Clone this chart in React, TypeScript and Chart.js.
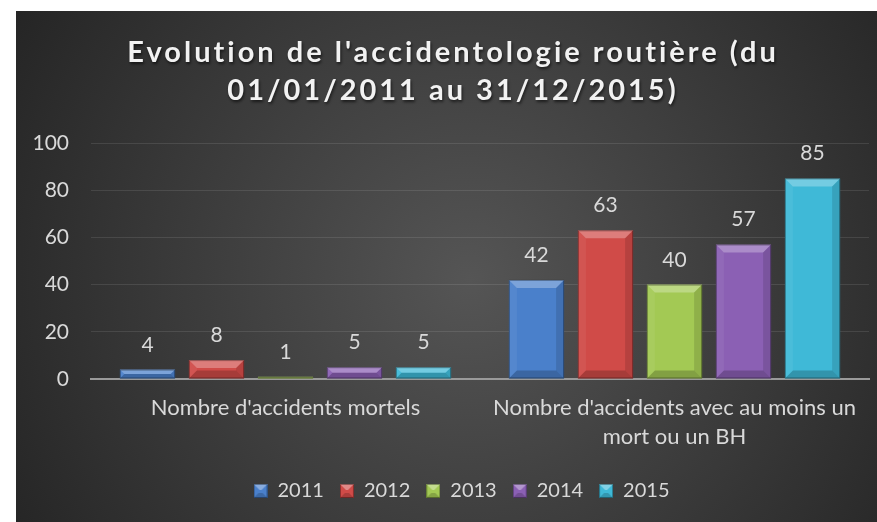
import React, { useEffect, useRef } from "react";
import { Chart, registerables } from "chart.js";

Chart.register(...registerables);

// ---- data ----
const categories: (string | string[])[] = [
  "Nombre d'accidents mortels",
  ["Nombre d'accidents avec au moins un", "mort ou un BH"],
];
const years = ["2011", "2012", "2013", "2014", "2015"];
const values2011 = [4, 42];
const values2012 = [8, 63];
const values2013 = [1, 40];
const values2014 = [5, 57];
const values2015 = [5, 85];
const seriesValues = [values2011, values2012, values2013, values2014, values2015];
const titleLines = [
  "Evolution de l'accidentologie routière (du",
  "01/01/2011 au 31/12/2015)",
];
const yMin = 0;
const yMax = 100;
const yStep = 20;

// ---- styles ----
const colors = ["#4a80cb", "#d04b48", "#a3c954", "#8b60b4", "#3fb9d7"];
const FONT = "Lato, 'Open Sans', sans-serif";
const TEXT = "#d9d9d9";

function makeIcon(color: string): HTMLCanvasElement {
  const c = document.createElement("canvas");
  c.width = 14;
  c.height = 14;
  const g = c.getContext("2d")!;
  g.fillStyle = color;
  g.fillRect(0, 0, 14, 14);
  g.fillStyle = "rgba(255,255,255,0.35)";
  g.beginPath();
  g.moveTo(0, 0);
  g.lineTo(14, 0);
  g.lineTo(8, 6);
  g.lineTo(6, 6);
  g.closePath();
  g.fill();
  g.fillStyle = "rgba(0,0,0,0.18)";
  g.beginPath();
  g.moveTo(0, 14);
  g.lineTo(14, 14);
  g.lineTo(9, 9);
  g.lineTo(5, 9);
  g.closePath();
  g.fill();
  g.strokeStyle = "rgba(0,0,0,0.35)";
  g.lineWidth = 1;
  g.strokeRect(0.5, 0.5, 13, 13);
  return c;
}

const backgroundPlugin = {
  id: "panelBackground",
  afterLayout(chart: any) {
    if (chart.legend) {
      chart.legend.left += 19;
      chart.legend.right += 19;
    }
  },
  beforeDraw(chart: any) {
    const { ctx, width, height } = chart;
    ctx.save();
    const px = 16;
    const py = 11;
    const g = ctx.createRadialGradient(470, 280, 0, 470, 280, 560);
    g.addColorStop(0, "#555555");
    g.addColorStop(1, "#222222");
    ctx.fillStyle = g;
    ctx.fillRect(px, py, width - px, height - py);

    // title
    ctx.font = `bold 29px ${FONT}`;
    ctx.fillStyle = "#f2f2f2";
    ctx.textAlign = "center";
    ctx.textBaseline = "alphabetic";
    try {
      (ctx as any).letterSpacing = "3px";
    } catch (e) {}
    ctx.shadowColor = "rgba(0,0,0,0.6)";
    ctx.shadowBlur = 3;
    ctx.shadowOffsetX = 1;
    ctx.shadowOffsetY = 2;
    const cx = 453;
    titleLines.forEach((line, i) => {
      ctx.fillText(line, cx, 62 + i * 38);
    });
    ctx.restore();
  },
};

const bevelAndLabelPlugin = {
  id: "bevelAndLabels",
  afterDatasetsDraw(chart: any) {
    const ctx = chart.ctx;
    ctx.save();
    chart.data.datasets.forEach((ds: any, i: number) => {
      const meta = chart.getDatasetMeta(i);
      meta.data.forEach((bar: any, j: number) => {
        const { x, y, base, width } = bar.getProps(["x", "y", "base", "width"], true);
        const l = x - width / 2;
        const r = x + width / 2;
        const t = Math.min(y, base);
        const b = Math.max(y, base);
        const h = b - t;
        const bv = Math.min(8, h / 2);
        // top bevel
        ctx.fillStyle = "rgba(255,255,255,0.28)";
        ctx.beginPath();
        ctx.moveTo(l, t);
        ctx.lineTo(r, t);
        ctx.lineTo(r - bv, t + bv);
        ctx.lineTo(l + bv, t + bv);
        ctx.closePath();
        ctx.fill();
        // left bevel
        ctx.fillStyle = "rgba(255,255,255,0.06)";
        ctx.beginPath();
        ctx.moveTo(l, t);
        ctx.lineTo(l + bv, t + bv);
        ctx.lineTo(l + bv, b - bv);
        ctx.lineTo(l, b);
        ctx.closePath();
        ctx.fill();
        // right bevel
        ctx.fillStyle = "rgba(0,0,0,0.12)";
        ctx.beginPath();
        ctx.moveTo(r, t);
        ctx.lineTo(r - bv, t + bv);
        ctx.lineTo(r - bv, b - bv);
        ctx.lineTo(r, b);
        ctx.closePath();
        ctx.fill();
        // bottom bevel
        ctx.fillStyle = "rgba(0,0,0,0.2)";
        ctx.beginPath();
        ctx.moveTo(l, b);
        ctx.lineTo(r, b);
        ctx.lineTo(r - bv, b - bv);
        ctx.lineTo(l + bv, b - bv);
        ctx.closePath();
        ctx.fill();
        // outline
        ctx.strokeStyle = "rgba(0,0,0,0.35)";
        ctx.lineWidth = 1;
        ctx.strokeRect(l + 0.5, t + 0.5, width - 1, h - 1);

        // value label
        ctx.font = `21px ${FONT}`;
        ctx.fillStyle = TEXT;
        ctx.textAlign = "center";
        ctx.textBaseline = "alphabetic";
        ctx.fillText(String(ds.data[j]), x, t - 18);
      });
    });
    ctx.restore();
  },
};

export default function App() {
  const ref = useRef<HTMLCanvasElement | null>(null);

  useEffect(() => {
    document.body.style.margin = "0";
    const canvas = ref.current;
    if (!canvas) return;
    const icons = colors.map(makeIcon);
    const chart = new Chart(canvas, {
      type: "bar",
      data: {
        labels: categories as any,
        datasets: years.map((yr, i) => ({
          label: yr,
          data: seriesValues[i],
          backgroundColor: colors[i],
          borderWidth: 0,
          categoryPercentage: 0.887,
          barPercentage: 0.8,
        })),
      },
      options: {
        responsive: false,
        animation: false,
        devicePixelRatio: 1,
        layout: { padding: { left: 16, top: 143, right: 8, bottom: 11 } },
        plugins: {
          title: { display: false },
          tooltip: { enabled: false },
          legend: {
            display: true,
            position: "bottom",
            labels: {
              usePointStyle: true,
              boxWidth: 14,
              boxHeight: 14,
              padding: 16,
              color: TEXT,
              font: { family: FONT, size: 20 },
              generateLabels(chart: any) {
                const items = Chart.defaults.plugins.legend.labels.generateLabels(chart);
                return items.map((it: any, i: number) => ({
                  ...it,
                  pointStyle: icons[i],
                  fontColor: TEXT,
                }));
              },
            },
          },
        },
        scales: {
          x: {
            grid: { display: false, drawTicks: false },
            border: { display: true, color: "#9a9a9a", width: 2 },
            ticks: {
              color: TEXT,
              font: { family: FONT, size: 22, lineHeight: 1.32 },
              padding: 14,
              maxRotation: 0,
              autoSkip: false,
            },
            afterFit(scale: any) {
              scale.height = 86;
            },
          },
          y: {
            min: yMin,
            max: yMax,
            ticks: {
              stepSize: yStep,
              color: TEXT,
              font: { family: FONT, size: 21 },
              padding: 22,
            },
            grid: { color: "rgba(255,255,255,0.1)", lineWidth: 1, drawTicks: false },
            border: { display: false },
            afterFit(scale: any) {
              scale.width = 75;
            },
          },
        },
      },
      plugins: [backgroundPlugin, bevelAndLabelPlugin],
    } as any);
    return () => chart.destroy();
  }, []);

  return (
    <div style={{ width: 877, height: 522 }}>
      <canvas ref={ref} width={877} height={522} style={{ display: "block" }} />
    </div>
  );
}
